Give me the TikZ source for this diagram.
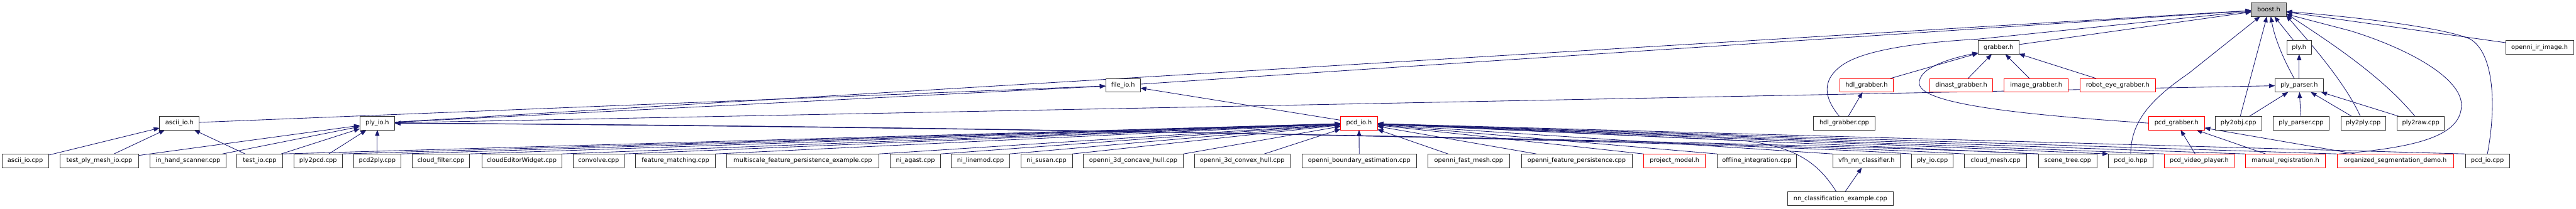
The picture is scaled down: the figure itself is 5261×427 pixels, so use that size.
\documentclass[tikz,border=0pt]{standalone}
\usepackage{fontspec}
\setmainfont{DejaVu Sans}
\usetikzlibrary{arrows.meta,backgrounds}
\definecolor{edgeblue}{RGB}{25,25,112}
\definecolor{boostgray}{RGB}{191,191,191}
\begin{document}
\begin{tikzpicture}[x=1pt,y=-1pt,
  box/.style={draw=black!80, line width=1pt, fill=white, minimum height=28pt, inner sep=0pt, outer sep=0pt, font=\fontsize{12.6}{15}\selectfont},
  rbox/.style={box, draw=red},
  edge/.style={draw=edgeblue, line width=1.1pt, -{Triangle[length=12pt,width=9pt]}}]
\useasboundingbox (0,0) rectangle (5261,427);
% row 0
\node[box,fill=boostgray,minimum width=71pt] (boost) at (4633.5,19.5) {boost.h};
% row 1
\node[box,minimum width=83pt] (grabber) at (4081.5,97) {grabber.h};
\node[box,minimum width=51pt] (plyh) at (4695.5,97) {ply.h};
\node[box,minimum width=139pt] (irimg) at (5186.5,97) {openni\_ir\_image.h};
% row 2
\node[box,minimum width=71pt] (fileio) at (2293.5,174.5) {file\_io.h};
\node[rbox,minimum width=110pt] (hdlh) at (3812,174.5) {hdl\_grabber.h};
\node[rbox,minimum width=129pt] (dinast) at (4005.5,174.5) {dinast\_grabber.h};
\node[rbox,minimum width=131pt] (imgrab) at (4158.5,174.5) {image\_grabber.h};
\node[rbox,minimum width=154pt] (robot) at (4325,174.5) {robot\_eye\_grabber.h};
\node[box,minimum width=99pt] (pph) at (4695.5,174.5) {ply\_parser.h};
% row 3
\node[box,minimum width=81pt] (asciih) at (366.5,252) {ascii\_io.h};
\node[box,minimum width=71pt] (plyio) at (770.5,252) {ply\_io.h};
\node[rbox,minimum width=75pt] (pcdio) at (2775.5,252) {pcd\_io.h};
\node[box,minimum width=125pt] (hdlcpp) at (3766.5,252) {hdl\_grabber.cpp};
\node[rbox,minimum width=114pt] (pcdgrab) at (4445,252) {pcd\_grabber.h};
\node[box,minimum width=95pt] (ply2obj) at (4571.5,252) {ply2obj.cpp};
\node[box,minimum width=115pt] (ppcpp) at (4699.5,252) {ply\_parser.cpp};
\node[box,minimum width=91pt] (ply2ply) at (4826.5,252) {ply2ply.cpp};
\node[box,minimum width=96pt] (ply2raw) at (4944,252) {ply2raw.cpp};
% row 4
\node[box,minimum width=95pt] (asciicpp) at (51.5,329) {ascii\_io.cpp};
\node[box,minimum width=160pt] (tpmio) at (203,329) {test\_ply\_mesh\_io.cpp};
\node[box,minimum width=156pt] (ihs) at (384,329) {in\_hand\_scanner.cpp};
\node[box,minimum width=93pt] (testio) at (530.5,329) {test\_io.cpp};
\node[box,minimum width=99pt] (ply2pcd) at (649.5,329) {ply2pcd.cpp};
\node[box,minimum width=97pt] (pcd2ply) at (770.5,329) {pcd2ply.cpp};
\node[box,minimum width=117pt] (cfilter) at (900.5,329) {cloud\_filter.cpp};
\node[box,minimum width=163pt] (cew) at (1065.5,329) {cloudEditorWidget.cpp};
\node[box,minimum width=105pt] (convolve) at (1222.5,329) {convolve.cpp};
\node[box,minimum width=163pt] (fmatch) at (1379.5,329) {feature\_matching.cpp};
\node[box,minimum width=311pt] (mfp) at (1639.5,329) {multiscale\_feature\_persistence\_example.cpp};
\node[box,minimum width=103pt] (agast) at (1869.5,329) {ni\_agast.cpp};
\node[box,minimum width=119pt] (linemod) at (2002.5,329) {ni\_linemod.cpp};
\node[box,minimum width=105pt] (susan) at (2137.5,329) {ni\_susan.cpp};
\node[box,minimum width=205pt] (concave) at (2314.5,329) {openni\_3d\_concave\_hull.cpp};
\node[box,minimum width=196pt] (convex) at (2537,329) {openni\_3d\_convex\_hull.cpp};
\node[box,minimum width=234pt] (boundary) at (2776,329) {openni\_boundary\_estimation.cpp};
\node[box,minimum width=167pt] (fastmesh) at (2999.5,329) {openni\_fast\_mesh.cpp};
\node[box,minimum width=226pt] (ofp) at (3220,329) {openni\_feature\_persistence.cpp};
\node[rbox,minimum width=126pt] (projm) at (3420,329) {project\_model.h};
\node[box,minimum width=162pt] (offline) at (3588,329) {offline\_integration.cpp};
\node[box,minimum width=138pt] (vfh) at (3812,329) {vfh\_nn\_classifier.h};
\node[box,minimum width=85pt] (plyiocpp) at (3946.5,329) {ply\_io.cpp};
\node[box,minimum width=127pt] (cmesh) at (4075.5,329) {cloud\_mesh.cpp};
\node[box,minimum width=120pt] (stree) at (4223,329) {scene\_tree.cpp};
\node[box,minimum width=91pt] (pcdhpp) at (4351.5,329) {pcd\_io.hpp};
\node[rbox,minimum width=143pt] (pvp) at (4491.5,329) {pcd\_video\_player.h};
\node[rbox,minimum width=163pt] (manreg) at (4667.5,329) {manual\_registration.h};
\node[rbox,minimum width=238pt] (orgseg) at (4892,329) {organized\_segmentation\_demo.h};
\node[box,minimum width=90pt] (pcdcpp) at (5080,329) {pcd\_io.cpp};
% row 5
\node[box,minimum width=215pt] (nnc) at (3758.5,406.5) {nn\_classification\_example.cpp};

\begin{scope}[on background layer]
% includers of boost.h
\draw[edge] (grabber) -- (boost);
\draw[edge] (fileio) -- (boost);
\draw[edge] (plyio) -- (boost);
\draw[edge] ([xshift=-10pt]hdlcpp.north) .. controls (3725,200) and (3720,165) .. (3760,135) .. controls (3800,105) and (3900,88) .. (4040,80) -- (boost);
\draw[edge] (pcdhpp.north) .. controls (4352,250) and (4390,205) .. (4470,150) -- (boost);
\draw[edge] (ply2obj) -- (boost);
\draw[edge] ([xshift=-10pt]pph.north) .. controls (4660,115) and (4645,75) .. ([xshift=4pt]boost.south);
\draw[edge] (plyh) -- (boost);
\draw[edge] (pcdcpp.north) .. controls (5098,220) and (5095,110) .. (5045,80) .. controls (5000,60) and (4850,38) .. ([yshift=-4pt]boost.east);
\draw[edge] (irimg) -- (boost);
\draw[edge] ([xshift=4pt]orgseg.north west) .. controls (4930,302) and (5027,280) .. (5027,215) .. controls (5027,160) and (4920,100) .. (4800,63) -- (boost);
\draw[edge] ([xshift=-12pt]ply2raw.north) .. controls (4860,150) and (4740,75) .. ([yshift=-8pt]boost.east);
\draw[edge] ([xshift=-6pt]ply2ply.north) .. controls (4790,170) and (4720,90) .. ([yshift=-12pt]boost.east);
% includers of grabber.h
\draw[edge] (hdlh) -- (grabber);
\draw[edge] (dinast) -- (grabber);
\draw[edge] (imgrab) -- (grabber);
\draw[edge] (robot) -- (grabber);
\draw[edge] (pcdgrab.west) .. controls (4150,236) and (3925,215) .. (3920,172) .. controls (3916,140) and (3980,120) .. ([yshift=3pt]grabber.south west);
% other headers
\draw[edge] (hdlcpp) -- (hdlh);
\draw[edge] (nnc) -- (vfh);
\draw[edge] (pph) -- (plyh);
\draw[edge] (ply2obj) -- (pph);
\draw[edge] (ppcpp) -- (pph);
\draw[edge] (ply2ply) -- (pph);
\draw[edge] (ply2raw) -- (pph);
\draw[edge] (plyio) -- (pph);
\draw[edge] (asciih) -- (fileio);
\draw[edge] (plyio) -- (fileio);
\draw[edge] (pcdio) -- (fileio);
% ascii_io.h
\draw[edge] (asciicpp) -- (asciih);
\draw[edge] (tpmio) -- (asciih);
\draw[edge] (testio) -- (asciih);
% ply_io.h
\draw[edge] (tpmio) -- (plyio);
\draw[edge] (ihs) -- (plyio);
\draw[edge] (testio) -- (plyio);
\draw[edge] (ply2pcd) -- (plyio);
\draw[edge] (pcd2ply) -- (plyio);
\draw[edge] (plyiocpp.north west) .. controls (3500,288) and (2000,258) .. (plyio.east);
\draw[edge] (cmesh.north west) .. controls (3600,290) and (2100,260) .. (plyio.east);
\draw[edge] (stree.north west) .. controls (3700,292) and (2200,262) .. (plyio.east);
% pcd_io.h
\draw[edge] (testio.north east) -- (pcdio);
\draw[edge] (ply2pcd.north east) -- (pcdio);
\draw[edge] (pcd2ply.north east) -- (pcdio);
\draw[edge] (cfilter.north east) -- (pcdio);
\draw[edge] (cew.north east) -- (pcdio);
\draw[edge] (convolve.north east) -- (pcdio);
\draw[edge] (fmatch.north east) -- (pcdio);
\draw[edge] (mfp.north east) -- (pcdio);
\draw[edge] (agast.north east) -- (pcdio);
\draw[edge] (linemod.north east) -- (pcdio);
\draw[edge] (susan.north east) -- (pcdio);
\draw[edge] (concave.north east) -- (pcdio);
\draw[edge] ([xshift=45pt]convex.north) -- (pcdio);
\draw[edge] (boundary) -- (pcdio);
\draw[edge] ([xshift=-42pt]fastmesh.north) -- (pcdio);
\draw[edge] ([xshift=-82pt]ofp.north) -- (pcdio);
\draw[edge] (projm.north west) -- (pcdio);
\draw[edge] (offline.north west) -- (pcdio);
\draw[edge] (vfh.north west) -- (pcdio);
\draw[edge] ([xshift=-8pt]nnc.north) .. controls (3720,345) and (3680,300) .. (3560,288) -- (pcdio);
\draw[edge] (stree.north west) -- (pcdio);
\draw[edge] (pcdio) -- (pcdhpp.north west);
\draw[edge] (pvp.north west) -- (pcdio);
\draw[edge] (manreg.north west) -- (pcdio);
\draw[edge] (orgseg.north west) -- (pcdio);
\draw[edge] (pcdcpp.north west) -- (pcdio);
% pcd_grabber.h
\draw[edge] (pvp) -- (pcdgrab);
\draw[edge] (manreg) -- (pcdgrab);
\draw[edge] (orgseg) -- (pcdgrab);
\end{scope}
\end{tikzpicture}
\end{document}
